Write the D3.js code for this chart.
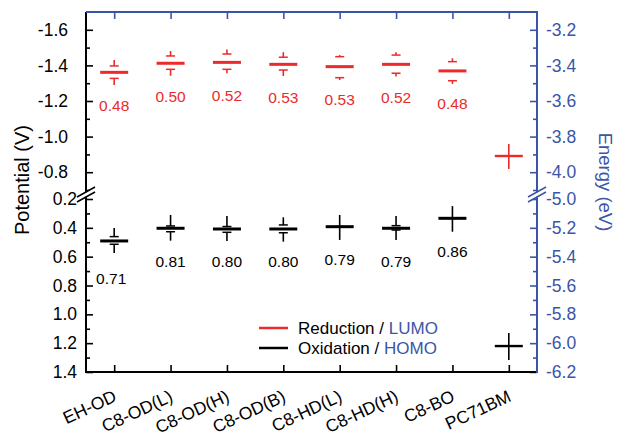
<!DOCTYPE html>
<html><head><meta charset="utf-8">
<script src="https://cdn.jsdelivr.net/npm/d3@7"></script>
<style>body{margin:0;background:#fff}svg{display:block;font-family:"Liberation Sans",Arial,sans-serif}</style>
</head><body><svg id="c" width="618" height="436"></svg>
<script>
const categories = ["EH-OD","C8-OD(L)","C8-OD(H)","C8-OD(B)","C8-HD(L)","C8-HD(H)","C8-BO","PC71BM"];
// Reduction / LUMO potentials (V)
const redMain  = [-1.361,-1.412,-1.417,-1.406,-1.393,-1.406,-1.369,-0.891];
const redCapHi = [-1.397,-1.453,-1.464,-1.446,-1.449,-1.458,-1.421,-0.891];
const redEndHi = [-1.430,-1.481,-1.490,-1.474,-1.458,-1.474,-1.440,-0.958];
const redCapLo = [-1.327,-1.378,-1.378,-1.374,-1.331,-1.356,-1.314,-0.891];
const redEndLo = [-1.290,-1.342,-1.356,-1.340,-1.318,-1.337,-1.296,-0.818];
const redLabels = ["0.48","0.50","0.52","0.53","0.53","0.52","0.48",""];
// Oxidation / HOMO potentials (V)
const blackMain  = [0.491,0.403,0.408,0.408,0.392,0.403,0.334,1.220];
const blackCapHi = [0.461,0.387,0.391,0.380,0.392,0.385,0.334,1.220];
const blackEndHi = [0.401,0.311,0.318,0.327,0.311,0.318,0.249,1.129];
const blackCapLo = [0.514,0.427,0.431,0.434,0.392,0.415,0.334,1.220];
const blackEndLo = [0.575,0.489,0.491,0.496,0.484,0.484,0.427,1.317];
const blackLabels = ["0.71","0.81","0.80","0.80","0.79","0.79","0.86",""];
// axis ticks
const leftTicksUpper = [-1.6,-1.4,-1.2,-1.0,-0.8];
const leftMinorUpper = [-1.5,-1.3,-1.1,-0.9,-0.7];
const leftTicksLower = [0.2,0.4,0.6,0.8,1.0,1.2,1.4];
const leftMinorLower = [0.3,0.5,0.7,0.9,1.1,1.3];
const rightTicksUpper = [-3.2,-3.4,-3.6,-3.8,-4.0];
const rightMinorUpper = [-3.3,-3.5,-3.7,-3.9,-4.1];
const rightTicksLower = [-5.0,-5.2,-5.4,-5.6,-5.8,-6.0,-6.2];
const rightMinorLower = [-5.1,-5.3,-5.5,-5.7,-5.9,-6.1];

const RED = "#ec2a2a", BLUE = "#3a55a8", BLACK = "#000";
const L = 86, R = 537, T = 12, B = 372;
const svg = d3.select("#c");

const x = d3.scaleLinear().domain([0.5, 8.5]).range([L, R]);
const yU = d3.scaleLinear().domain([-1.7, -0.7]).range([T, 190]);
const yL = d3.scaleLinear().domain([0.2, 1.4]).range([199, B]);
const yV = v => v < -0.2 ? yU(v) : yL(v);
const eU = d3.scaleLinear().domain([-3.1, -4.1]).range([T, 190]);
const eL = d3.scaleLinear().domain([-5.0, -6.2]).range([199, B]);
const fmt = d => d.toFixed(1);
const FS = 17.5;

function styleAxis(g, color, fs) {
  g.select(".domain").remove();
  g.selectAll("line").attr("stroke", color).attr("stroke-width", 1.6);
  g.selectAll("text").attr("fill", color).style("font-size", fs + "px")
    .style("font-family", '"Liberation Sans",Arial,sans-serif');
}
// left axis (two segments of the broken axis)
[[yU, leftTicksUpper, leftMinorUpper, 18], [yL, leftTicksLower, leftMinorLower, 9]].forEach(([s, maj, min, pad]) => {
  const g = svg.append("g").attr("transform", `translate(${L},0)`)
    .call(d3.axisLeft(s).tickValues(maj).tickFormat(fmt).tickSizeInner(-7).tickSizeOuter(0).tickPadding(pad));
  styleAxis(g, BLACK, FS);
  const gm = svg.append("g").attr("transform", `translate(${L},0)`)
    .call(d3.axisLeft(s).tickValues(min).tickFormat("").tickSizeInner(-4).tickSizeOuter(0));
  styleAxis(gm, BLACK, FS);
});
// right axis
[[eU, rightTicksUpper, rightMinorUpper], [eL, rightTicksLower, rightMinorLower]].forEach(([s, maj, min]) => {
  const g = svg.append("g").attr("transform", `translate(${R},0)`)
    .call(d3.axisRight(s).tickValues(maj).tickFormat(fmt).tickSizeInner(-7).tickSizeOuter(0).tickPadding(9));
  styleAxis(g, BLUE, FS);
  const gm = svg.append("g").attr("transform", `translate(${R},0)`)
    .call(d3.axisRight(s).tickValues(min).tickFormat("").tickSizeInner(-4).tickSizeOuter(0));
  styleAxis(gm, BLUE, FS);
});
// bottom axis
const idx = categories.map((c, i) => i + 1);
const gb = svg.append("g").attr("transform", `translate(0,${B})`)
  .call(d3.axisBottom(x).tickValues(idx).tickFormat(d => categories[d - 1]).tickSizeInner(-7).tickSizeOuter(0).tickPadding(0));
styleAxis(gb, BLACK, 17.5);
gb.selectAll("text").attr("text-anchor", "end").attr("dy", null).attr("y", 0).attr("x", 0)
  .attr("transform", "translate(3,28.5) rotate(-25)");
// top axis
const gt = svg.append("g").attr("transform", `translate(0,${T})`)
  .call(d3.axisTop(x).tickValues(idx).tickFormat("").tickSizeInner(-7).tickSizeOuter(0));
styleAxis(gt, BLUE, FS);

// frame lines
svg.append("line").attr("x1", L).attr("x2", L).attr("y1", T).attr("y2", B + 1).attr("stroke", BLACK).attr("stroke-width", 2);
svg.append("line").attr("x1", L - 1).attr("x2", R).attr("y1", B).attr("y2", B).attr("stroke", BLACK).attr("stroke-width", 2);
svg.append("line").attr("x1", L).attr("x2", R + 1).attr("y1", T).attr("y2", T).attr("stroke", BLUE).attr("stroke-width", 2);
svg.append("line").attr("x1", R).attr("x2", R).attr("y1", T - 1).attr("y2", B + 1).attr("stroke", BLUE).attr("stroke-width", 2);

// axis breaks
function brk(cx, cy, color) {
  const g = svg.append("g");
  g.append("polygon").attr("points", `${cx - 9},${cy + 7} ${cx + 9},${cy - 3} ${cx + 9},${cy - 7} ${cx - 9},${cy + 3}`)
    .attr("fill", "#fff");
  g.append("line").attr("x1", cx - 9).attr("y1", cy + 2.5).attr("x2", cx + 9).attr("y2", cy - 7.5).attr("stroke", color).attr("stroke-width", 1.5);
  g.append("line").attr("x1", cx - 9).attr("y1", cy + 7.5).attr("x2", cx + 9).attr("y2", cy - 2.5).attr("stroke", color).attr("stroke-width", 1.5);
}
brk(L, 194.5, BLACK);
brk(R, 194.5, BLUE);

// markers
function drawSeries(main, capHi, endHi, capLo, endLo, labels, color, cls) {
  const g = svg.append("g").attr("class", cls);
  main.forEach((v, i) => {
    const cx = x(i + 1);
    const last = i === main.length - 1;
    g.append("line").attr("x1", cx).attr("x2", cx).attr("y1", yV(endHi[i])).attr("y2", yV(capHi[i]))
      .attr("stroke", color).attr("stroke-width", 1.6);
    g.append("line").attr("x1", cx).attr("x2", cx).attr("y1", yV(capLo[i])).attr("y2", yV(endLo[i]))
      .attr("stroke", color).attr("stroke-width", 1.6);
    g.append("line").attr("x1", cx - 4.5).attr("x2", cx + 4.5).attr("y1", yV(capHi[i])).attr("y2", yV(capHi[i]))
      .attr("stroke", color).attr("stroke-width", 1.5);
    g.append("line").attr("x1", cx - 4.5).attr("x2", cx + 4.5).attr("y1", yV(capLo[i])).attr("y2", yV(capLo[i]))
      .attr("stroke", color).attr("stroke-width", 1.5);
    g.append("line").attr("x1", cx - 14).attr("x2", cx + 14).attr("y1", yV(v)).attr("y2", yV(v))
      .attr("stroke", color).attr("stroke-width", last ? 2.4 : 3);
    if (labels[i]) {
      const special = cls === "ox" && i === 0;
      g.append("text").attr("x", cx + (special ? -3 : 0)).attr("y", yV(v) + (special ? 38 : 33))
        .attr("dy", "0.35em").attr("text-anchor", "middle").attr("fill", color)
        .style("font-size", "15.5px").text(labels[i]);
    }
  });
}
drawSeries(redMain, redCapHi, redEndHi, redCapLo, redEndLo, redLabels, RED, "red");
drawSeries(blackMain, blackCapHi, blackEndHi, blackCapLo, blackEndLo, blackLabels, BLACK, "ox");

// legend
const leg = [["Reduction / ", "LUMO", RED], ["Oxidation / ", "HOMO", BLACK]];
leg.forEach((d, i) => {
  const yy = 328 + i * 20;
  svg.append("line").attr("x1", 259).attr("x2", 288).attr("y1", yy).attr("y2", yy).attr("stroke", d[2]).attr("stroke-width", 2.5);
  const t = svg.append("text").attr("x", 298).attr("y", yy).attr("dy", "0.35em").style("font-size", "17px").attr("fill", BLACK);
  t.append("tspan").text(d[0]);
  t.append("tspan").attr("fill", BLUE).text(d[1]);
});

// axis titles
svg.append("text").attr("transform", `translate(29,180) rotate(-90)`).attr("text-anchor", "middle")
  .style("font-size", "20px").attr("fill", BLACK).text("Potential (V)");
svg.append("text").attr("transform", `translate(599,182) rotate(90)`).attr("text-anchor", "middle")
  .style("font-size", "18.5px").attr("fill", BLUE).text("Energy (eV)");
</script></body></html>
